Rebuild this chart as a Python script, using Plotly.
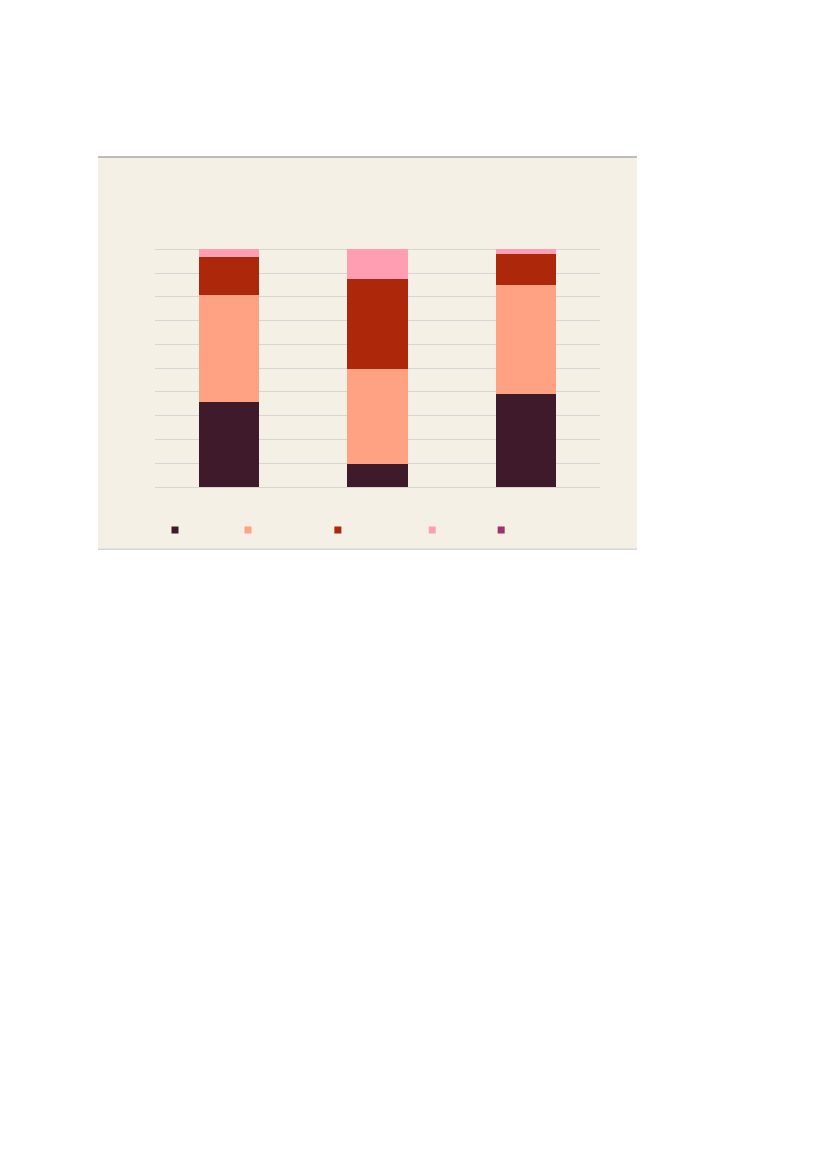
import plotly.graph_objects as go

# three stacked 100% bars, five series (last one empty)
categories = ["A", "B", "C"]
series_names = [" ", "  ", "   ", "    ", "     "]
series_colors = ["#3f1a2b", "#ffa283", "#ad280b", "#ff9db3", "#a0306a"]
series_values = [
    [35.7, 9.8, 39.2],
    [45.1, 39.9, 45.8],
    [16.0, 37.8, 13.0],
    [3.2, 12.5, 2.0],
    [0.0, 0.0, 0.0],
]

# legend key x positions (paper fraction) - keys are unevenly spaced
legend_x = [0.0, 0.164, 0.366, 0.578, 0.733]

fig = go.Figure()

for i, (name, color, vals) in enumerate(zip(series_names, series_colors, series_values)):
    fig.add_trace(go.Bar(
        x=categories,
        y=vals,
        marker=dict(color=color, line=dict(width=0)),
        showlegend=False,
    ))
    # small square legend key, each in its own legend box
    fig.add_trace(go.Scatter(
        x=[None], y=[None],
        mode="markers",
        name=name,
        marker=dict(symbol="square", size=7, color=color),
        showlegend=True,
        legend="legend" if i == 0 else "legend%d" % (i + 1),
    ))

# panel behind the chart
fig.add_shape(type="rect", xref="paper", yref="paper",
              x0=-0.128, x1=1.083, y0=-0.2625, y1=1.375,
              fillcolor="#f4f0e6", line=dict(width=0), layer="below")
fig.add_shape(type="line", xref="paper", yref="paper",
              x0=-0.128, x1=1.083, y0=1.375, y1=1.375,
              line=dict(color="#a9a9a9", width=1.5))
fig.add_shape(type="line", xref="paper", yref="paper",
              x0=-0.128, x1=1.083, y0=-0.259, y1=-0.259,
              line=dict(color="#d6d6d6", width=1.5))

legends = {}
for i, lx in enumerate(legend_x):
    key = "legend" if i == 0 else "legend%d" % (i + 1)
    legends[key] = dict(orientation="h", x=lx, y=-0.179, xanchor="left", yanchor="middle",
                        bgcolor="rgba(0,0,0,0)", font=dict(size=10))

fig.update_layout(
    width=827, height=1170,
    margin=dict(l=147, r=235, t=239, b=691),
    paper_bgcolor="white",
    plot_bgcolor="rgba(0,0,0,0)",
    barmode="stack",
    bargap=0.595,
    font=dict(family="Liberation Sans", size=11, color="#333333"),
    **legends,
)
fig.update_xaxes(showticklabels=False, showgrid=False, showline=False, ticks="")
fig.update_yaxes(range=[0, 101], tickvals=list(range(0, 101, 10)),
                 showticklabels=False, ticks="",
                 gridcolor="#d9d5d5", gridwidth=1, zeroline=True,
                 zerolinecolor="#d9d5d5", zerolinewidth=1, showline=False)

fig.write_html("out.html")
